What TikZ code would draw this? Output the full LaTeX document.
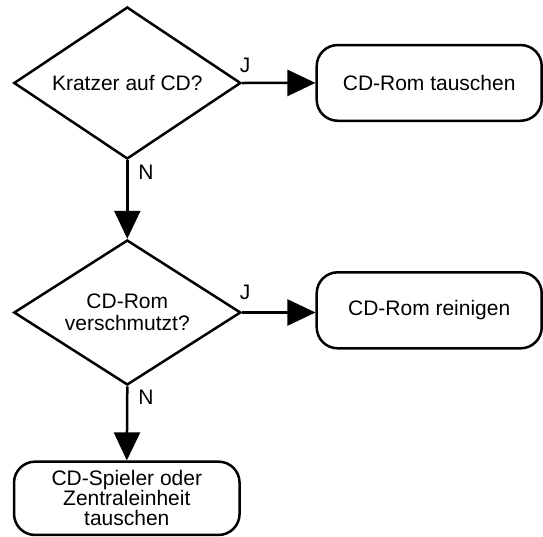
\documentclass[tikz,border=0pt]{standalone}
\usepackage{fontspec}
\setmainfont{Liberation Sans}
\usetikzlibrary{shapes.geometric,arrows.meta}
\tikzset{
  every node/.style={font=\fontsize{21}{22.5}\selectfont},
  dec/.style={draw, line width=2.5pt, shape=diamond, shape aspect=1.5, inner sep=0pt, minimum width=227pt, align=center},
  act/.style={draw, line width=2.5pt, rounded corners=21pt, inner sep=0pt, minimum width=225pt, align=center},
  arr/.style={line width=2.5pt, -{Triangle[length=28pt,width=26pt]}},
  lbl/.style={inner sep=0pt}
}
\begin{document}
\begin{tikzpicture}[x=1pt,y=-1pt]
\useasboundingbox (0,0) rectangle (543,536);
\node[dec, minimum height=152pt] (d1) at (127.3,83) {Kratzer auf CD?};
\node[act, minimum height=75.7pt] (b1) at (429.2,82.9) {CD-Rom tauschen};
\node[dec, minimum height=145pt] (d2) at (127.3,312.5) {CD-Rom\\[-1pt]verschmutzt?};
\node[act, minimum height=73.3pt, minimum width=225.5pt, font=\fontsize{21}{20}\selectfont] (b3) at (126.8,498.3) {CD-Spieler oder\\Zentraleinheit\\tauschen};
\node[act, minimum height=76pt] (b2) at (429.2,310.3) {CD-Rom reinigen};
\draw[arr] (d1.east) -- (b1.west);
\draw[arr] (d1.south) -- (d2.north);
\draw[arr] (d2.east) -- (d2.east -| b2.west);
\draw[arr] (d2.south) -- (b3.north);
\node[lbl] (j1) at (245,65) {J};
\node[lbl] (n1) at (146,172) {N};
\node[lbl] (j2) at (245,292) {J};
\node[lbl] (n2) at (146,397) {N};
\end{tikzpicture}
\end{document}
